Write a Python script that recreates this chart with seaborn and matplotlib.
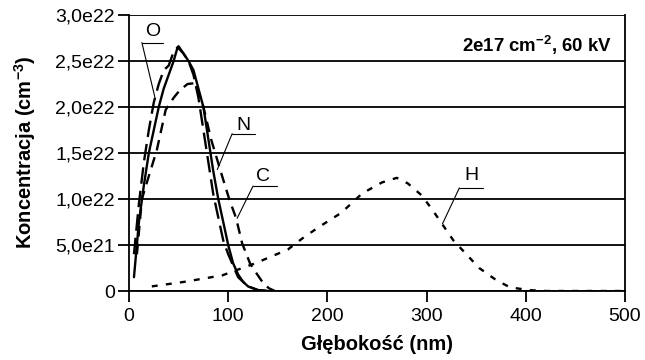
import matplotlib.pyplot as plt
import seaborn as sns
import pandas as pd

sns.set_theme(style="white")
plt.rcParams['font.family'] = ['Liberation Sans', 'DejaVu Sans']
plt.rcParams['text.color'] = 'black'
plt.rcParams['mathtext.default'] = 'regular'

# profile data (depth nm, concentration in 1e21 cm^-3)
o_x = [5, 10, 15, 20, 25, 30, 35, 40, 45, 50, 55, 60, 65, 70, 75, 80, 85, 90, 95, 100, 110, 120, 130, 140]
o_y = [4.0, 9.5, 14.0, 17.5, 20.5, 22.5, 24.0, 24.5, 26.0, 26.6, 25.8, 25.0, 23.5, 21.0, 17.5, 14.0, 10.5, 8.0, 5.5, 4.0, 1.5, 0.5, 0.1, 0.0]

n_x = [5, 10, 15, 20, 25, 30, 35, 40, 45, 49, 55, 60, 65, 70, 75, 80, 85, 90, 95, 100, 105, 110, 115, 120, 130, 140]
n_y = [1.5, 7.5, 11.5, 15.0, 17.5, 20.0, 22.0, 23.5, 25.0, 26.5, 25.8, 25.0, 24.0, 22.0, 20.0, 16.5, 13.0, 10.0, 7.5, 5.0, 3.0, 1.8, 1.0, 0.5, 0.1, 0.0]

c_x = [8, 13, 20, 28, 37, 45, 51, 59, 67, 75, 83, 93, 101, 108, 114, 122, 128, 135, 141, 147]
c_y = [4.0, 10.0, 12.5, 15.3, 19.7, 21.0, 21.8, 22.5, 22.6, 20.0, 16.4, 12.8, 10.0, 7.9, 5.2, 3.0, 2.0, 0.9, 0.3, 0.0]

h_x = [23, 56, 94, 127, 160, 177, 195, 214, 235, 255, 270, 281, 295, 306, 327, 353, 370, 384, 403, 420, 500]
h_y = [0.5, 1.0, 1.7, 3.0, 4.5, 5.9, 7.2, 8.5, 10.6, 11.8, 12.3, 11.7, 10.4, 8.8, 5.5, 2.5, 1.2, 0.4, 0.1, 0.0, 0.0]

series = {
    'O': (o_x, o_y, (0, (7, 3))),
    'N': (n_x, n_y, '-'),
    'C': (c_x, c_y, (0, (4.5, 3))),
    'H': (h_x, h_y, (0, (2.5, 3.5))),
}

# label text, underline, leader end (data coords, y in 1e21)
labels = {
    'O': ((24, 28.2), (13, 34, 27.0), (26, 21.1)),
    'N': ((115, 18.0), (104, 127, 17.1), (89, 13.2)),
    'C': ((135, 12.4), (125, 149, 11.4), (109, 7.9)),
    'H': ((345, 12.6), (333, 357, 11.2), (316, 7.3)),
}

y_ticks = [0, 5, 10, 15, 20, 25, 30]
y_tick_labels = ['0', '5,0e21', '1,0e22', '1,5e22', '2,0e22', '2,5e22', '3,0e22']
x_ticks = [0, 100, 200, 300, 400, 500]

fig = plt.figure(figsize=(6.45, 3.6), dpi=100)
ax = fig.add_axes([129 / 645, 69 / 360, 496 / 645, 276 / 360])

for name, (xs, ys, ls) in series.items():
    df = pd.DataFrame({'x': xs, 'y': ys})
    sns.lineplot(data=df, x='x', y='y', ax=ax, color='black', lw=1.7,
                 linestyle=ls, estimator=None, sort=False)

for name, (txt, ul, end) in labels.items():
    ax.text(txt[0], txt[1], name, ha='center', va='center', fontsize=14, color='black')
    ax.plot([ul[0], ul[1]], [ul[2], ul[2]], color='black', lw=0.8)
    ax.plot([ul[0], end[0]], [ul[2], end[1]], color='black', lw=0.8)

ax.set_xlim(0, 500)
ax.set_ylim(0, 30)
ax.set_yticks(y_ticks)
ax.set_yticklabels(y_tick_labels)
ax.set_xticks(x_ticks)
ax.yaxis.grid(True, color='black', lw=1.3)
ax.set_axisbelow(True)
for s in ax.spines.values():
    s.set_color('black')
    s.set_linewidth(1.3)
ax.spines['top'].set_visible(False)
ax.tick_params(axis='both', direction='out', length=8, width=1.3, color='black',
               labelsize=14, labelcolor='black', left=True, bottom=True)
ax.tick_params(axis='x', pad=4)
ax.tick_params(axis='y', pad=2)
ax.set_xlabel('')
ax.set_ylabel('')
fig.text(377 / 645, 1 - 345 / 360, 'Głębokość (nm)', ha='center', va='center',
         fontsize=14.5, fontweight='bold')
fig.text(25 / 645, 1 - 152 / 360, 'Koncentracja (cm$^{-3}$)', ha='center', va='center',
         rotation=90, fontsize=14.5, fontweight='bold')
ax.text(0.974, 0.891, '2e17 cm$^{-2}$, 60 kV', transform=ax.transAxes,
        ha='right', va='center', fontsize=13.4, fontweight='bold')

fig.savefig('out.png', dpi=100, facecolor='white')
